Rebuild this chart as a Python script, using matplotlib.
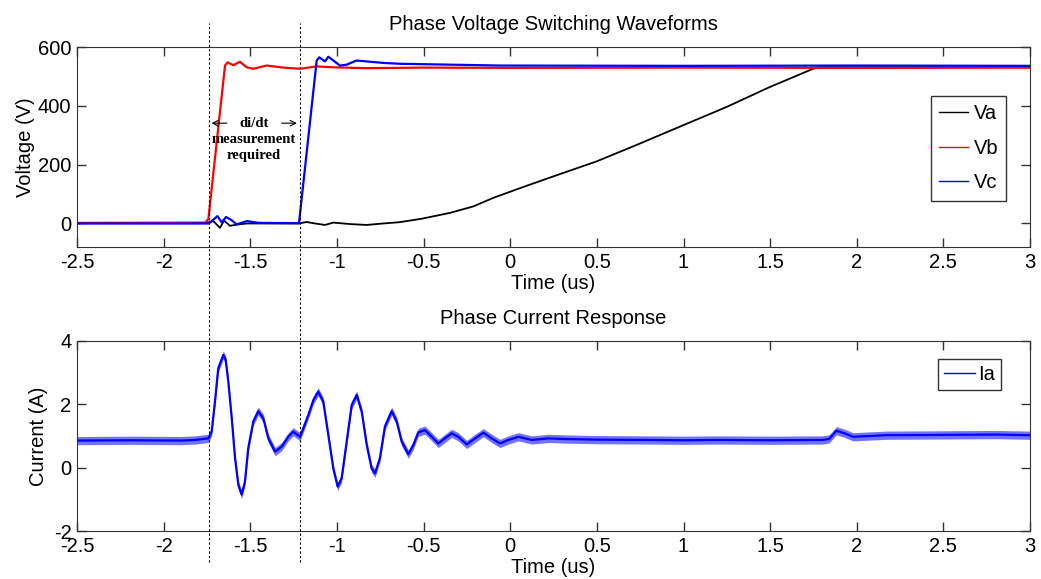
import matplotlib
matplotlib.use("Agg")
import matplotlib.pyplot as plt
from matplotlib.lines import Line2D
from matplotlib.transforms import blended_transform_factory

plt.rcParams['font.family'] = ['Liberation Sans', 'DejaVu Sans']
plt.rcParams['axes.unicode_minus'] = False

# ---- data (time in us) ----
t_va = [-2.5, -1.76, -1.713, -1.675, -1.652, -1.617, -1.579, -1.52, -1.3, -1.219, -1.175, -1.137,
        -1.069, -1.021, -0.925, -0.829, -0.733, -0.637, -0.512, -0.348, -0.213, -0.098, 0.056,
        0.248, 0.498, 0.729, 0.998, 1.248, 1.498, 1.748, 1.78, 3.0]
va = [1, 1, 8, -15, 10, -8, -4, 0, 0, 0, 5, 1, -5, 3, -2, -5, 0, 4.5, 16, 36, 58, 87, 120,
      160, 211, 267, 334, 396, 464, 526, 531, 531]

t_vb = [-2.5, -1.76, -1.742, -1.646, -1.631, -1.598, -1.560, -1.521, -1.483, -1.406, -1.310,
        -1.213, -1.117, -1.021, -0.829, -0.5, 0.0, 1.0, 2.0, 3.0]
vb = [2, 3, 15, 537, 548, 538, 550, 531, 526, 537, 530, 526, 534, 531, 528, 530, 529, 530, 529, 530]

t_vc = [-2.5, -1.74, -1.713, -1.690, -1.665, -1.640, -1.610, -1.579, -1.52, -1.45, -1.219,
        -1.117, -1.102, -1.069, -1.050, -1.021, -0.983, -0.944, -0.887, -0.829, -0.733, -0.637,
        -0.444, -0.06, 1.0, 2.0, 3.0]
vc = [0, 0, 13, 25, 4, 22, 12, -3, 8, 2, 1, 554, 565, 551, 567, 554, 537, 540, 554, 551, 546,
      543, 541, 537, 536, 537, 536]

t_ia = [-2.5, -2.2, -1.9, -1.819, -1.742, -1.723, -1.704, -1.685, -1.656, -1.642, -1.627, -1.607,
        -1.588, -1.569, -1.550, -1.531, -1.512, -1.483, -1.454, -1.425, -1.396, -1.357, -1.319,
        -1.281, -1.252, -1.213, -1.165, -1.136, -1.108, -1.079, -1.050, -1.021, -0.996, -0.973,
        -0.944, -0.915, -0.886, -0.857, -0.828, -0.800, -0.780, -0.752, -0.723, -0.684, -0.655,
        -0.626, -0.588, -0.559, -0.531, -0.492, -0.453, -0.415, -0.377, -0.338, -0.300, -0.251,
        -0.203, -0.155, -0.107, -0.059, -0.011, 0.047, 0.124, 0.220, 0.316, 0.5, 0.8, 1.0, 1.2,
        1.5, 1.8, 1.84, 1.882, 1.93, 1.978, 2.17, 2.5, 2.8, 3.0]
ia = [0.85, 0.86, 0.85, 0.87, 0.92, 1.13, 2.08, 3.13, 3.55, 3.39, 2.71, 1.55, 0.29, -0.55, -0.85,
      -0.45, 0.61, 1.45, 1.78, 1.55, 0.92, 0.50, 0.66, 0.97, 1.13, 0.97, 1.66, 2.13, 2.39, 2.08,
      1.03, -0.03, -0.60, -0.34, 0.81, 1.97, 2.29, 1.76, 0.71, -0.03, -0.18, 0.30, 1.30, 1.78,
      1.45, 0.81, 0.42, 0.71, 1.11, 1.18, 0.97, 0.76, 0.92, 1.08, 0.97, 0.73, 0.92, 1.10, 0.92,
      0.76, 0.87, 0.97, 0.87, 0.92, 0.90, 0.88, 0.87, 0.86, 0.87, 0.86, 0.87, 0.90, 1.16, 1.08,
      0.97, 1.02, 1.03, 1.04, 1.02]
noise_ia = 0.13

x_ticks = [-2.5, -2, -1.5, -1, -0.5, 0, 0.5, 1, 1.5, 2, 2.5, 3]
x_ticklabels = ['-2.5', '-2', '-1.5', '-1', '-0.5', '0', '0.5', '1', '1.5', '2', '2.5', '3']
markers_t = [-1.74, -1.215]

fig = plt.figure(figsize=(10.41, 5.79), dpi=100)
ax1 = fig.add_axes([0.074, 0.5734, 0.9155, 0.3454])
ax2 = fig.add_axes([0.074, 0.0829, 0.9155, 0.3287])

ax1.plot(t_va, va, color='black', lw=1.3, label='Va')
ax1.plot(t_vb, vb, color='red', lw=1.6, label='Vb')
ax1.plot(t_vc, vc, color='blue', lw=1.6, label='Vc')
ax1.set_xlim(-2.5, 3)
ax1.set_ylim(-80, 600)
ax1.set_yticks([0, 200, 400, 600])
ax1.set_title('Phase Voltage Switching Waveforms', fontsize=14.5, pad=12.5)
ax1.set_ylabel('Voltage (V)', fontsize=14.5, labelpad=2)
ax1.set_xlabel('Time (us)', fontsize=14.5, labelpad=1.5)
leg1 = ax1.legend(loc='upper right', bbox_to_anchor=(0.975, 0.755), borderaxespad=0,
                  fancybox=False, edgecolor='#333333', fontsize=14.5, handlelength=1.4,
                  handletextpad=0.3, labelspacing=0.78, borderpad=0.4, framealpha=1)
for h in leg1.get_lines():
    h.set_linewidth(1.0)

ia_lo = [v - noise_ia for v in ia]
ia_hi = [v + noise_ia for v in ia]
ax2.fill_between(t_ia, ia_lo, ia_hi, color='blue', alpha=0.55, lw=0)
ax2.plot(t_ia, ia, color='blue', lw=1.6, label='Ia')
ax2.set_xlim(-2.5, 3)
ax2.set_ylim(-2, 4)
ax2.set_yticks([-2, 0, 2, 4])
ax2.set_title('Phase Current Response', fontsize=14.5, pad=12)
ax2.set_ylabel('Current (A)', fontsize=14.5, labelpad=4)
ax2.set_xlabel('Time (us)', fontsize=14.5, labelpad=1.5)
leg2 = ax2.legend(loc='upper right', bbox_to_anchor=(0.970, 0.904), borderaxespad=0,
                  fancybox=False, edgecolor='#333333', fontsize=14.5, handlelength=1.5,
                  handletextpad=0.2, borderpad=0.3, framealpha=1)
for h in leg2.get_lines():
    h.set_linewidth(1.0)

for ax in (ax1, ax2):
    ax.set_xticks(x_ticks)
    ax.set_xticklabels(x_ticklabels)
    ax.tick_params(direction='in', top=True, right=True, length=6.5, width=1,
                   labelsize=14.5, color='#333333', pad=4)
    for s in ax.spines.values():
        s.set_color('#333333')

# dotted markers spanning both plots
tr = blended_transform_factory(ax1.transData, fig.transFigure)
for tm in markers_t:
    fig.add_artist(Line2D([tm, tm], [0.029, 0.960], transform=tr, color='black',
                          lw=0.8, ls=(0, (2, 2))))

# annotation between the markers
ax1.text(-1.479, 341, 'di/dt', ha='center', va='center', fontsize=10.5,
         family='Liberation Serif', weight='bold')
ax1.text(-1.479, 287, 'measurement', ha='center', va='center', fontsize=10.5,
         family='Liberation Serif', weight='bold')
ax1.text(-1.479, 230, 'required', ha='center', va='center', fontsize=10.5,
         family='Liberation Serif', weight='bold')
ax1.annotate('', xy=(markers_t[0], 341), xytext=(-1.62, 341),
             arrowprops=dict(arrowstyle='->', color='black', lw=0.8))
ax1.annotate('', xy=(markers_t[1], 341), xytext=(-1.335, 341),
             arrowprops=dict(arrowstyle='->', color='black', lw=0.8))

fig.savefig('out.png', dpi=100)
